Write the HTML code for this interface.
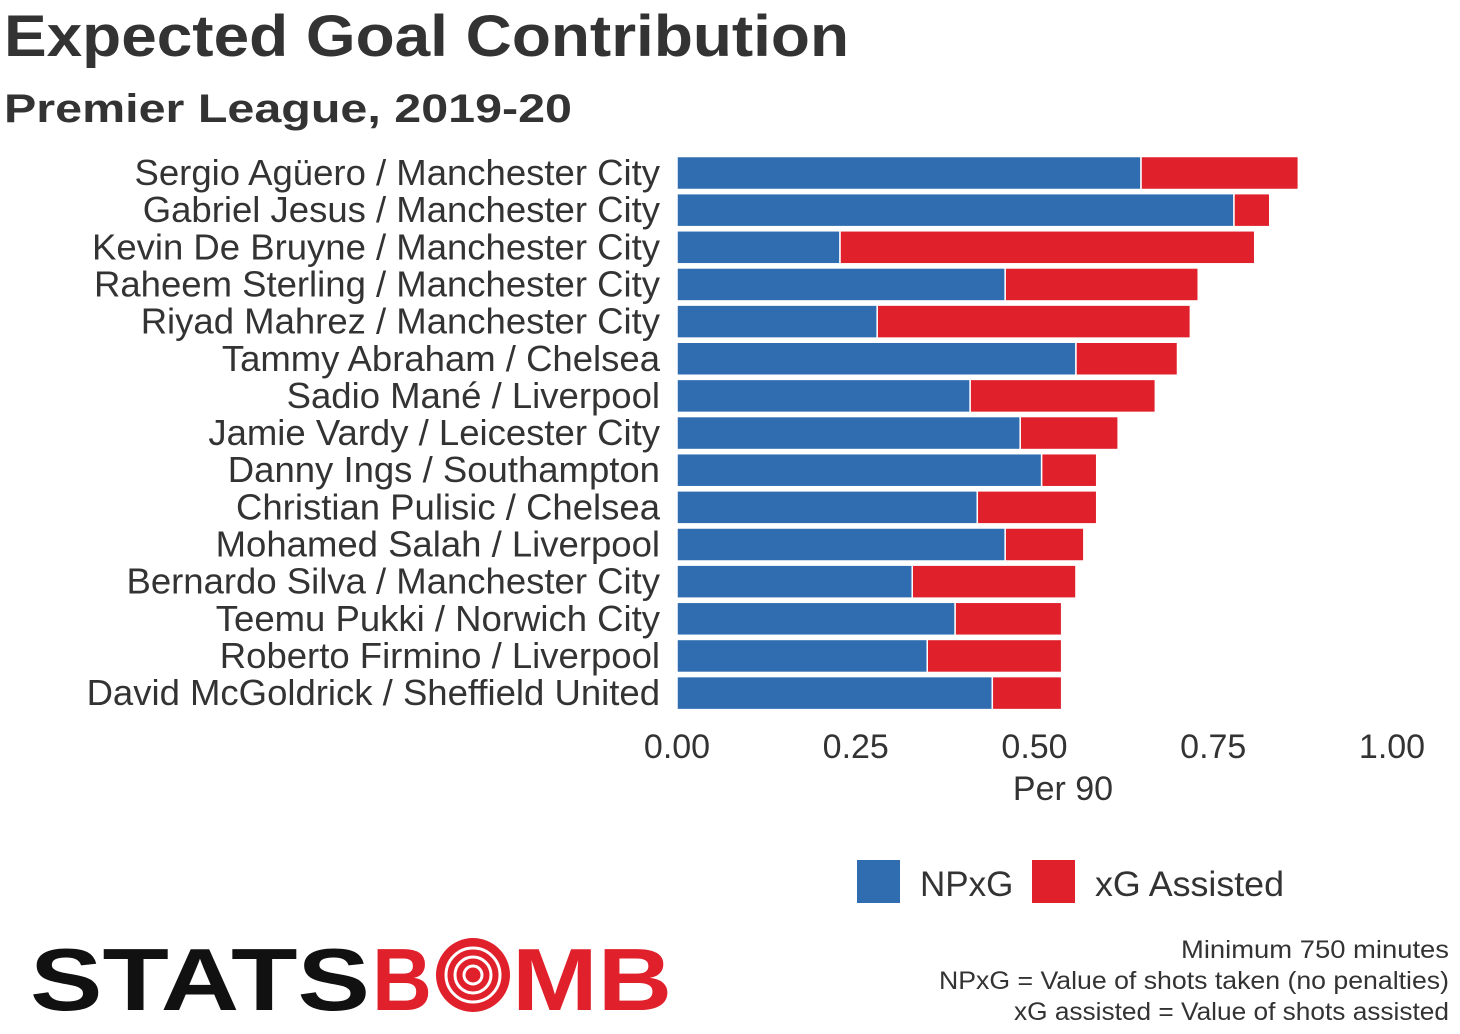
<!DOCTYPE html>
<html><head><meta charset="utf-8"><style>
html,body{margin:0;padding:0;background:#fff}
svg{display:block;font-family:"Liberation Sans",sans-serif}
</style></head><body>
<svg id="chart" width="1460" height="1034" viewBox="0 0 1460 1034">
<text x="4" y="56" font-size="58" font-weight="bold" fill="#333" textLength="845" lengthAdjust="spacingAndGlyphs">Expected Goal Contribution</text>
<text x="4" y="122" font-size="40" font-weight="bold" fill="#333" textLength="568" lengthAdjust="spacingAndGlyphs">Premier League, 2019-20</text>
<g id="bars"></g>
<g id="labels"></g>
<g id="ticks"></g>
<text x="1063" y="800" font-size="34" fill="#333" text-anchor="middle">Per 90</text>
<rect x="857" y="860" width="43" height="43" fill="#2f6db0"/>
<text x="920" y="896" font-size="35" fill="#333">NPxG</text>
<rect x="1032" y="860" width="43" height="43" fill="#e0202b"/>
<text x="1095" y="896" font-size="35" fill="#333" textLength="189" lengthAdjust="spacingAndGlyphs">xG Assisted</text>
<g>
<text x="30" y="1010" font-size="88" font-weight="bold" fill="#111" textLength="340" lengthAdjust="spacingAndGlyphs">STATS</text>
<text x="372" y="1010" font-size="88" font-weight="bold" fill="#e0202b" textLength="60" lengthAdjust="spacingAndGlyphs">B</text>
<circle cx="473" cy="975" r="37" fill="#e0202b"/>
<circle cx="473" cy="975" r="27" fill="none" stroke="#fff" stroke-width="3"/>
<circle cx="473" cy="975" r="18" fill="none" stroke="#fff" stroke-width="3"/>
<circle cx="473" cy="975" r="9" fill="none" stroke="#fff" stroke-width="3"/>
<text x="512" y="1010" font-size="88" font-weight="bold" fill="#e0202b" textLength="160" lengthAdjust="spacingAndGlyphs">MB</text>
</g>
<text x="1449" y="958" font-size="25" fill="#333" text-anchor="end" textLength="268" lengthAdjust="spacingAndGlyphs">Minimum 750 minutes</text>
<text x="1449" y="989" font-size="25" fill="#333" text-anchor="end" textLength="510" lengthAdjust="spacingAndGlyphs">NPxG = Value of shots taken (no penalties)</text>
<text x="1449" y="1020" font-size="25" fill="#333" text-anchor="end" textLength="435" lengthAdjust="spacingAndGlyphs">xG assisted = Value of shots assisted</text>
</svg>
<script>
const players = ["Sergio Agüero / Manchester City","Gabriel Jesus / Manchester City","Kevin De Bruyne / Manchester City","Raheem Sterling / Manchester City","Riyad Mahrez / Manchester City","Tammy Abraham / Chelsea","Sadio Mané / Liverpool","Jamie Vardy / Leicester City","Danny Ings / Southampton","Christian Pulisic / Chelsea","Mohamed Salah / Liverpool","Bernardo Silva / Manchester City","Teemu Pukki / Norwich City","Roberto Firmino / Liverpool","David McGoldrick / Sheffield United"];
const npxg = [0.649,0.779,0.228,0.459,0.280,0.558,0.410,0.480,0.510,0.420,0.459,0.329,0.389,0.350,0.441];
const xga = [0.220,0.050,0.580,0.270,0.438,0.142,0.259,0.137,0.077,0.167,0.110,0.229,0.149,0.188,0.097];
const ticks = [0,0.25,0.5,0.75,1.0];
const tickLabels = ["0.00","0.25","0.50","0.75","1.00"];

const NS="http://www.w3.org/2000/svg";
const x = v => 677 + v*715;
const yc = i => 173 + i*37.15;
const bh = 33;
const bars=document.getElementById('bars'), labels=document.getElementById('labels'), tg=document.getElementById('ticks');
function mk(tag, attrs){const e=document.createElementNS(NS,tag);for(const k in attrs)e.setAttribute(k,attrs[k]);return e;}
players.forEach((p,i)=>{
  const y=yc(i)-bh/2;
  const b1=mk('rect',{x:x(0),y:y,width:x(npxg[i])-x(0),height:bh,fill:'#2f6db0',stroke:'#fff','stroke-width':1.5});
  
  
  bars.appendChild(b1);
  const b2=mk('rect',{x:x(npxg[i]),y:y,width:x(npxg[i]+xga[i])-x(npxg[i]),height:bh,fill:'#e0202b',stroke:'#fff','stroke-width':1.5});
  
  
  bars.appendChild(b2);
  const t=mk('text',{x:660,y:yc(i)+12,'font-size':36.5,fill:'#333','text-anchor':'end'});
  t.textContent=p;
  
  
  labels.appendChild(t);
});
ticks.forEach((v,i)=>{
  const t=mk('text',{x:x(v),y:758,'font-size':34,fill:'#333','text-anchor':'middle'});
  t.textContent=tickLabels[i];
  
  
  tg.appendChild(t);
});
</script>
</body></html>
